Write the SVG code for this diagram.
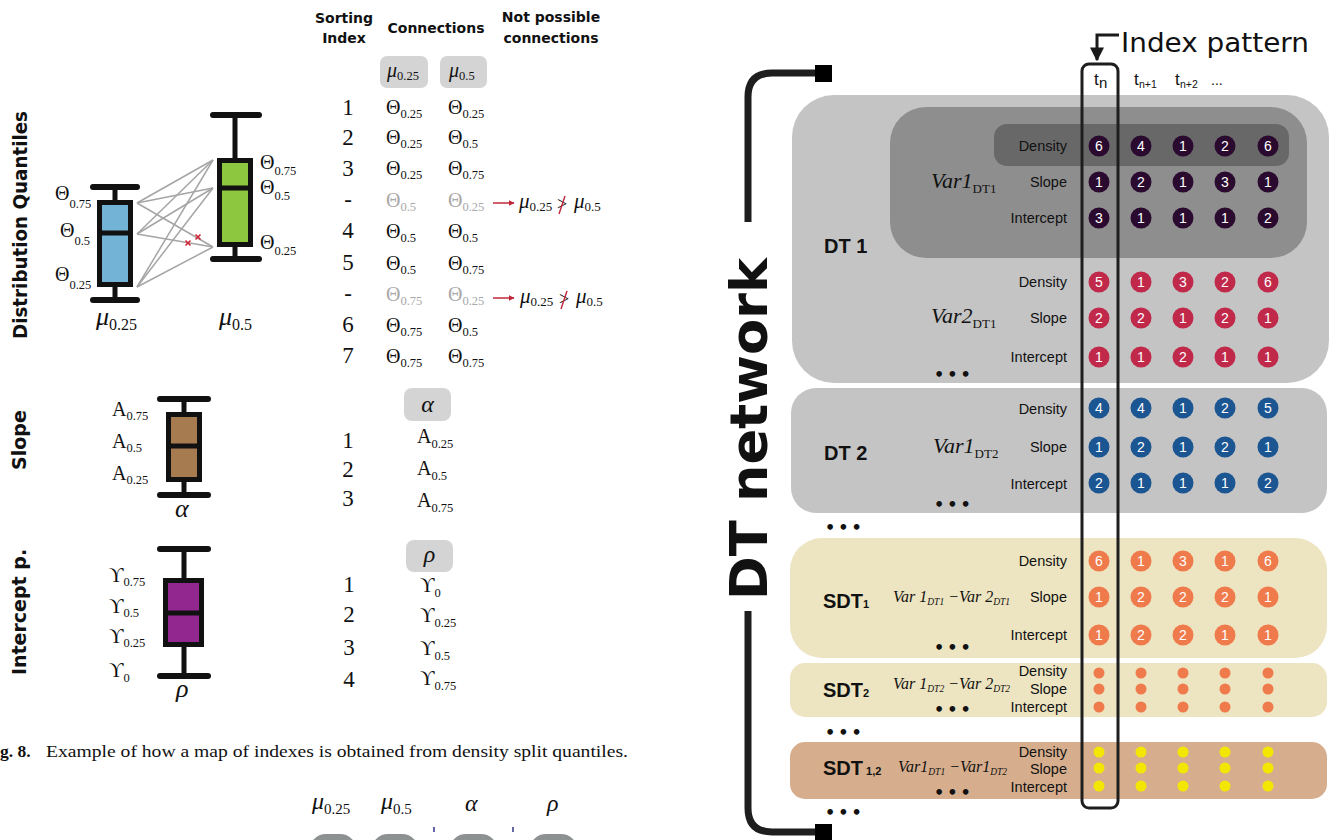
<svg xmlns="http://www.w3.org/2000/svg" width="1332" height="840" viewBox="0 0 1332 840">
<defs>
<marker id="redArrow" viewBox="0 0 10 10" refX="9" refY="5" markerWidth="6" markerHeight="6" markerUnits="userSpaceOnUse" orient="auto"><path d="M0,0 L10,5 L0,10 z" fill="#c0283a"/></marker>
<marker id="blkArrow" viewBox="0 0 10 10" refX="9" refY="5" markerWidth="14" markerHeight="14" markerUnits="userSpaceOnUse" orient="auto"><path d="M0,0 L10,5 L0,10 z" fill="#1a1a1a"/></marker>
</defs>
<style>
.hdr{font-family:"DejaVu Sans",sans-serif;font-weight:bold;font-size:14px;fill:#111;text-anchor:middle}
.rot{font-family:"DejaVu Sans",sans-serif;font-weight:bold;font-size:19px;fill:#111;text-anchor:middle}
.ser{font-family:"Liberation Serif","Times New Roman",serif;fill:#111}
.it{font-style:italic}
.g{font-size:20px}
.sb{font-size:12.5px}
.num{font-family:"Liberation Serif","Times New Roman",serif;font-size:23px;fill:#111;text-anchor:middle}
.lbl{font-family:"Liberation Sans",Arial,sans-serif;font-size:14.5px;fill:#111;text-anchor:end}
.cn{font-family:"Liberation Sans",Arial,sans-serif;font-size:14px;fill:#fff;text-anchor:middle}
.dt{font-family:"Liberation Sans",Arial,sans-serif;font-weight:bold;font-size:20px;fill:#111}
.dots{font-family:"DejaVu Sans",sans-serif;font-weight:bold;font-size:16px;fill:#111;letter-spacing:3px}
.box{stroke:#111;stroke-width:5;stroke-linejoin:miter}
.wh{stroke:#111;stroke-width:5;fill:none}
.cap{stroke:#111;stroke-width:6;stroke-linecap:round}
.conn{stroke:#a5a5a5;stroke-width:1.5;fill:none}
.pu{fill:#2b0a2f}.rd{fill:#c1294b}.bl{fill:#1b5592}.or{fill:#ef7a4b}.ye{fill:#f3e600}
.tag{fill:#d4d4d4}
.gr{fill:#a8a8a8}
</style>

<!-- ================= LEFT: labels ================= -->
<g id="label-distribution-quantiles"><text class="rot" transform="translate(27,225) rotate(-90)" textLength="228" lengthAdjust="spacingAndGlyphs">Distribution Quantiles</text></g>
<g id="label-slope"><text class="rot" transform="translate(26,440) rotate(-90)">Slope</text></g>
<g id="label-intercept"><text class="rot" transform="translate(26,612) rotate(-90)">Intercept p.</text></g>

<!-- connectors between boxplots -->
<g id="connectors">
<line class="conn" x1="137" y1="203" x2="213" y2="160"/>
<line class="conn" x1="137" y1="203" x2="213" y2="188"/>
<line class="conn" x1="137" y1="203" x2="213" y2="247"/>
<line class="conn" x1="137" y1="234" x2="213" y2="160"/>
<line class="conn" x1="137" y1="234" x2="213" y2="188"/>
<line class="conn" x1="137" y1="234" x2="213" y2="247"/>
<line class="conn" x1="137" y1="287" x2="213" y2="160"/>
<line class="conn" x1="137" y1="287" x2="213" y2="188"/>
<line class="conn" x1="137" y1="287" x2="213" y2="247"/>
<g stroke="#d0263a" stroke-width="1.6">
<line x1="185.5" y1="240.5" x2="190.5" y2="245.5"/><line x1="190.5" y1="240.5" x2="185.5" y2="245.5"/>
<line x1="195.5" y1="234.5" x2="200.5" y2="239.5"/><line x1="200.5" y1="234.5" x2="195.5" y2="239.5"/>
</g>
</g>

<g id="boxplot-mu025">
<line class="wh" x1="115" y1="187" x2="115" y2="200"/><line class="wh" x1="115" y1="287" x2="115" y2="300"/>
<line class="cap" x1="93" y1="187" x2="137" y2="187"/><line class="cap" x1="93" y1="300" x2="137" y2="300"/>
<rect class="box" x="99.5" y="202.5" width="31" height="82" fill="#72b3d6"/>
<line class="wh" x1="99.5" y1="233" x2="130.5" y2="233"/>
<text class="ser g" x="55" y="200">Θ<tspan class="sb" dy="8">0.75</tspan></text>
<text class="ser g" x="60" y="237">Θ<tspan class="sb" dy="8">0.5</tspan></text>
<text class="ser g" x="55" y="281">Θ<tspan class="sb" dy="8">0.25</tspan></text>
<text class="ser it" x="96" y="325" font-size="26">μ<tspan font-style="normal" font-size="16" dy="5">0.25</tspan></text>
</g>

<g id="boxplot-mu05">
<line class="wh" x1="235" y1="115" x2="235" y2="158"/><line class="wh" x1="235" y1="247" x2="235" y2="259"/>
<line class="cap" x1="213" y1="115" x2="259" y2="115"/><line class="cap" x1="213" y1="259" x2="259" y2="259"/>
<rect class="box" x="219.5" y="160.5" width="31" height="84" fill="#8dc63f"/>
<line class="wh" x1="219.5" y1="188" x2="250.5" y2="188"/>
<text class="ser g" x="260" y="169">Θ<tspan class="sb" dy="6">0.75</tspan></text>
<text class="ser g" x="260" y="194">Θ<tspan class="sb" dy="6">0.5</tspan></text>
<text class="ser g" x="260" y="249">Θ<tspan class="sb" dy="6">0.25</tspan></text>
<text class="ser it" x="219" y="325" font-size="26">μ<tspan font-style="normal" font-size="16" dy="5">0.5</tspan></text>
</g>

<!-- ================= TABLE ================= -->
<g id="table-headers">
<text class="hdr" x="344" y="23">Sorting</text>
<text class="hdr" x="344" y="43">Index</text>
<text class="hdr" x="436" y="33">Connections</text>
<text class="hdr" x="551" y="22">Not possible</text>
<text class="hdr" x="551" y="43">connections</text>
</g>
<g id="table-tags">
<rect class="tag" x="380" y="56" width="48" height="32" rx="7"/>
<rect class="tag" x="440" y="56" width="47" height="32" rx="7"/>
<text class="ser it" x="387" y="77" font-size="20">μ<tspan font-style="normal" font-size="12.5" dy="3">0.25</tspan></text>
<text class="ser it" x="449" y="77" font-size="20">μ<tspan font-style="normal" font-size="12.5" dy="3">0.5</tspan></text>
</g>
<g id="table-rows">
<text class="num" x="348" y="115">1</text>
<text class="num" x="348" y="145">2</text>
<text class="num" x="348" y="176">3</text>
<text class="num" x="348" y="207">-</text>
<text class="num" x="348" y="238">4</text>
<text class="num" x="348" y="270">5</text>
<text class="num" x="348" y="301">-</text>
<text class="num" x="348" y="332">6</text>
<text class="num" x="348" y="363">7</text>

<text class="ser g" x="386" y="114">Θ<tspan class="sb" dy="4">0.25</tspan></text>
<text class="ser g" x="448" y="114">Θ<tspan class="sb" dy="4">0.25</tspan></text>
<text class="ser g" x="386" y="144">Θ<tspan class="sb" dy="4">0.25</tspan></text>
<text class="ser g" x="448" y="144">Θ<tspan class="sb" dy="4">0.5</tspan></text>
<text class="ser g" x="386" y="175">Θ<tspan class="sb" dy="4">0.25</tspan></text>
<text class="ser g" x="448" y="175">Θ<tspan class="sb" dy="4">0.75</tspan></text>
<text class="ser g" x="386" y="207" fill="#a8a8a8" style="fill:#a8a8a8">Θ<tspan class="sb" dy="4">0.5</tspan></text>
<text class="ser g" x="448" y="207" style="fill:#a8a8a8">Θ<tspan class="sb" dy="4">0.25</tspan></text>
<text class="ser g" x="386" y="238">Θ<tspan class="sb" dy="4">0.5</tspan></text>
<text class="ser g" x="448" y="238">Θ<tspan class="sb" dy="4">0.5</tspan></text>
<text class="ser g" x="386" y="270">Θ<tspan class="sb" dy="4">0.5</tspan></text>
<text class="ser g" x="448" y="270">Θ<tspan class="sb" dy="4">0.75</tspan></text>
<text class="ser g" x="386" y="301" style="fill:#a8a8a8">Θ<tspan class="sb" dy="4">0.75</tspan></text>
<text class="ser g" x="448" y="301" style="fill:#a8a8a8">Θ<tspan class="sb" dy="4">0.25</tspan></text>
<text class="ser g" x="386" y="332">Θ<tspan class="sb" dy="4">0.75</tspan></text>
<text class="ser g" x="448" y="332">Θ<tspan class="sb" dy="4">0.5</tspan></text>
<text class="ser g" x="386" y="363">Θ<tspan class="sb" dy="4">0.75</tspan></text>
<text class="ser g" x="448" y="363">Θ<tspan class="sb" dy="4">0.75</tspan></text>
</g>
<g id="not-possible-1">
<line x1="493" y1="203" x2="514" y2="203" stroke="#c0283a" stroke-width="1.5" marker-end="url(#redArrow)"/>
<text class="ser it" x="519" y="208" font-size="21">μ<tspan font-style="normal" font-size="13" dy="3">0.25</tspan></text>
<text class="ser" x="557" y="210" font-size="18">&gt;</text>
<line x1="565" y1="196" x2="559" y2="214" stroke="#c0283a" stroke-width="1.4"/>
<text class="ser it" x="574" y="208" font-size="21">μ<tspan font-style="normal" font-size="13" dy="3">0.5</tspan></text>
</g>
<g id="not-possible-2">
<line x1="493" y1="298" x2="514" y2="298" stroke="#c0283a" stroke-width="1.5" marker-end="url(#redArrow)"/>
<text class="ser it" x="520" y="303" font-size="21">μ<tspan font-style="normal" font-size="13" dy="3">0.25</tspan></text>
<text class="ser" x="559" y="305" font-size="18">&gt;</text>
<line x1="567" y1="291" x2="561" y2="309" stroke="#c0283a" stroke-width="1.4"/>
<text class="ser it" x="576" y="303" font-size="21">μ<tspan font-style="normal" font-size="13" dy="3">0.5</tspan></text>
</g>

<!-- ================= SLOPE ================= -->
<g id="boxplot-alpha">
<line class="wh" x1="184" y1="399" x2="184" y2="412"/><line class="wh" x1="184" y1="482" x2="184" y2="495"/>
<line class="cap" x1="160" y1="399" x2="208" y2="399"/><line class="cap" x1="160" y1="495" x2="208" y2="495"/>
<rect class="box" x="168.5" y="414.5" width="31" height="65" fill="#a67b50"/>
<line class="wh" x1="168.5" y1="446" x2="199.5" y2="446"/>
<text class="ser" x="112" y="416" font-size="20">A<tspan class="sb" dy="4">0.75</tspan></text>
<text class="ser" x="112" y="448" font-size="20">A<tspan class="sb" dy="4">0.5</tspan></text>
<text class="ser" x="112" y="480" font-size="20">A<tspan class="sb" dy="4">0.25</tspan></text>
<text class="ser it" x="175" y="517" font-size="26">α</text>
</g>
<g id="table-alpha">
<rect class="tag" x="404" y="388" width="47" height="33" rx="8"/>
<text class="ser it" x="427.5" y="412" font-size="24" text-anchor="middle">α</text>
<text class="num" x="348" y="448">1</text>
<text class="num" x="348" y="477">2</text>
<text class="num" x="348" y="506">3</text>
<text class="ser" x="417" y="443" font-size="20">A<tspan class="sb" dy="5">0.25</tspan></text>
<text class="ser" x="417" y="475" font-size="20">A<tspan class="sb" dy="5">0.5</tspan></text>
<text class="ser" x="417" y="507" font-size="20">A<tspan class="sb" dy="5">0.75</tspan></text>
</g>

<!-- ================= INTERCEPT ================= -->
<g id="boxplot-rho">
<line class="wh" x1="184" y1="549" x2="184" y2="578"/><line class="wh" x1="184" y1="647" x2="184" y2="676"/>
<line class="cap" x1="160" y1="549" x2="208" y2="549"/><line class="cap" x1="160" y1="676" x2="208" y2="676"/>
<rect class="box" x="165.5" y="580.5" width="36" height="64" fill="#92278f"/>
<line class="wh" x1="165.5" y1="613" x2="201.5" y2="613"/>
<text class="ser" x="109" y="582" font-size="20">ϒ<tspan class="sb" dy="4">0.75</tspan></text>
<text class="ser" x="109" y="613" font-size="20">ϒ<tspan class="sb" dy="4">0.5</tspan></text>
<text class="ser" x="109" y="643" font-size="20">ϒ<tspan class="sb" dy="4">0.25</tspan></text>
<text class="ser" x="109" y="677" font-size="20">ϒ<tspan class="sb" dy="5">0</tspan></text>
<text class="ser it" x="176" y="697" font-size="26">ρ</text>
</g>
<g id="table-rho">
<rect class="tag" x="406" y="540" width="47" height="32" rx="8"/>
<text class="ser it" x="429.5" y="562" font-size="24" text-anchor="middle">ρ</text>
<text class="num" x="349" y="592">1</text>
<text class="num" x="349" y="622">2</text>
<text class="num" x="349" y="655">3</text>
<text class="num" x="349" y="687">4</text>
<text class="ser" x="420" y="592" font-size="20">ϒ<tspan class="sb" dy="5">0</tspan></text>
<text class="ser" x="420" y="622" font-size="20">ϒ<tspan class="sb" dy="5">0.25</tspan></text>
<text class="ser" x="420" y="655" font-size="20">ϒ<tspan class="sb" dy="5">0.5</tspan></text>
<text class="ser" x="420" y="685" font-size="20">ϒ<tspan class="sb" dy="5">0.75</tspan></text>
</g>

<!-- ================= CAPTION & BOTTOM ================= -->
<g id="caption">
<text class="ser" x="0" y="757" font-size="17.5" font-weight="bold">g. 8.</text>
<text class="ser" x="46" y="757" font-size="17.5" textLength="582" lengthAdjust="spacingAndGlyphs">Example of how a map of indexes is obtained from density split quantiles.</text>
</g>
<g id="bottom-row">
<text class="ser it" x="312" y="809" font-size="24">μ<tspan font-style="normal" font-size="15" dy="5">0.25</tspan></text>
<text class="ser it" x="381" y="809" font-size="24">μ<tspan font-style="normal" font-size="15" dy="5">0.5</tspan></text>
<text class="ser it" x="465" y="811" font-size="24">α</text>
<text class="ser it" x="547" y="811" font-size="24">ρ</text>
<line x1="434" y1="827" x2="434" y2="832" stroke="#34348a" stroke-width="1.5"/>
<line x1="513" y1="827" x2="513" y2="832" stroke="#34348a" stroke-width="1.5"/>
<g fill="#8d9191">
<rect x="310" y="834" width="46" height="30" rx="16"/>
<rect x="372" y="834" width="46" height="30" rx="16"/>
<rect x="450" y="834" width="47" height="30" rx="16"/>
<rect x="530" y="834" width="47" height="30" rx="16"/>
</g>
</g>

<!-- ================= RIGHT: DT network ================= -->
<g id="dt-network-bracket">
<path d="M818,73 H772 Q748,73 748,97 V222" fill="none" stroke="#1e1e1e" stroke-width="7"/>
<path d="M748,611 V808 Q748,832 772,832 H818" fill="none" stroke="#1e1e1e" stroke-width="7"/>
<rect x="815" y="65" width="17" height="17" fill="#000"/>
<rect x="815" y="824" width="17" height="17" fill="#000"/>
<text transform="translate(767,429) rotate(-90)" font-family="DejaVu Sans, sans-serif" font-weight="bold" font-size="52" text-anchor="middle" textLength="342" lengthAdjust="spacingAndGlyphs" fill="#111">DT network</text>
</g>

<g id="dt1">
<rect x="792" y="95" width="537" height="288" rx="42" fill="#c4c4c4"/>
<text class="dt" x="824" y="253">DT 1</text>
</g>
<g id="dt1-var1">
<rect x="890" y="107" width="417" height="151" rx="36" fill="#8e8e8e"/>
<rect x="994" y="124" width="295" height="42" rx="13" fill="#686868"/>
<text class="ser it" x="931" y="188" font-size="22">Var1<tspan font-style="normal" font-size="13" dy="5">DT1</tspan></text>
<text class="lbl" x="1067" y="151">Density</text>
<text class="lbl" x="1067" y="187">Slope</text>
<text class="lbl" x="1067" y="223">Intercept</text>
<g class="pu">
<circle cx="1099" cy="146" r="10.5"/><circle cx="1141" cy="146" r="10.5"/><circle cx="1183" cy="146" r="10.5"/><circle cx="1225" cy="146" r="10.5"/><circle cx="1268" cy="146" r="10.5"/>
<circle cx="1099" cy="182" r="10.5"/><circle cx="1141" cy="182" r="10.5"/><circle cx="1183" cy="182" r="10.5"/><circle cx="1225" cy="182" r="10.5"/><circle cx="1268" cy="182" r="10.5"/>
<circle cx="1099" cy="218" r="10.5"/><circle cx="1141" cy="218" r="10.5"/><circle cx="1183" cy="218" r="10.5"/><circle cx="1225" cy="218" r="10.5"/><circle cx="1268" cy="218" r="10.5"/>
</g>
<text class="cn" x="1099" y="151">6</text><text class="cn" x="1141" y="151">4</text><text class="cn" x="1183" y="151">1</text><text class="cn" x="1225" y="151">2</text><text class="cn" x="1268" y="151">6</text>
<text class="cn" x="1099" y="187">1</text><text class="cn" x="1141" y="187">2</text><text class="cn" x="1183" y="187">1</text><text class="cn" x="1225" y="187">3</text><text class="cn" x="1268" y="187">1</text>
<text class="cn" x="1099" y="223">3</text><text class="cn" x="1141" y="223">1</text><text class="cn" x="1183" y="223">1</text><text class="cn" x="1225" y="223">1</text><text class="cn" x="1268" y="223">2</text>
</g>
<g id="dt1-var2">
<text class="ser it" x="931" y="323" font-size="22">Var2<tspan font-style="normal" font-size="13" dy="5">DT1</tspan></text>
<text class="lbl" x="1067" y="287">Density</text>
<text class="lbl" x="1067" y="323">Slope</text>
<text class="lbl" x="1067" y="362">Intercept</text>
<text class="dots" x="934" y="380">•••</text>
<g class="rd">
<circle cx="1099" cy="282" r="10.5"/><circle cx="1141" cy="282" r="10.5"/><circle cx="1183" cy="282" r="10.5"/><circle cx="1225" cy="282" r="10.5"/><circle cx="1268" cy="282" r="10.5"/>
<circle cx="1099" cy="318" r="10.5"/><circle cx="1141" cy="318" r="10.5"/><circle cx="1183" cy="318" r="10.5"/><circle cx="1225" cy="318" r="10.5"/><circle cx="1268" cy="318" r="10.5"/>
<circle cx="1099" cy="357" r="10.5"/><circle cx="1141" cy="357" r="10.5"/><circle cx="1183" cy="357" r="10.5"/><circle cx="1225" cy="357" r="10.5"/><circle cx="1268" cy="357" r="10.5"/>
</g>
<text class="cn" x="1099" y="287">5</text><text class="cn" x="1141" y="287">1</text><text class="cn" x="1183" y="287">3</text><text class="cn" x="1225" y="287">2</text><text class="cn" x="1268" y="287">6</text>
<text class="cn" x="1099" y="323">2</text><text class="cn" x="1141" y="323">2</text><text class="cn" x="1183" y="323">1</text><text class="cn" x="1225" y="323">2</text><text class="cn" x="1268" y="323">1</text>
<text class="cn" x="1099" y="362">1</text><text class="cn" x="1141" y="362">1</text><text class="cn" x="1183" y="362">2</text><text class="cn" x="1225" y="362">1</text><text class="cn" x="1268" y="362">1</text>
</g>

<g id="dt2">
<rect x="791" y="388" width="536" height="125" rx="25" fill="#c4c4c4"/>
<text class="dt" x="824" y="460">DT 2</text>
<text class="ser it" x="933" y="453" font-size="22">Var1<tspan font-style="normal" font-size="13" dy="5">DT2</tspan></text>
<text class="lbl" x="1067" y="414">Density</text>
<text class="lbl" x="1067" y="452">Slope</text>
<text class="lbl" x="1067" y="489">Intercept</text>
<text class="dots" x="934" y="510">•••</text>
<g class="bl">
<circle cx="1099" cy="408" r="10.5"/><circle cx="1141" cy="408" r="10.5"/><circle cx="1183" cy="408" r="10.5"/><circle cx="1225" cy="408" r="10.5"/><circle cx="1268" cy="408" r="10.5"/>
<circle cx="1099" cy="447" r="10.5"/><circle cx="1141" cy="447" r="10.5"/><circle cx="1183" cy="447" r="10.5"/><circle cx="1225" cy="447" r="10.5"/><circle cx="1268" cy="447" r="10.5"/>
<circle cx="1099" cy="483" r="10.5"/><circle cx="1141" cy="483" r="10.5"/><circle cx="1183" cy="483" r="10.5"/><circle cx="1225" cy="483" r="10.5"/><circle cx="1268" cy="483" r="10.5"/>
</g>
<text class="cn" x="1099" y="413">4</text><text class="cn" x="1141" y="413">4</text><text class="cn" x="1183" y="413">1</text><text class="cn" x="1225" y="413">2</text><text class="cn" x="1268" y="413">5</text>
<text class="cn" x="1099" y="452">1</text><text class="cn" x="1141" y="452">2</text><text class="cn" x="1183" y="452">1</text><text class="cn" x="1225" y="452">2</text><text class="cn" x="1268" y="452">1</text>
<text class="cn" x="1099" y="488">2</text><text class="cn" x="1141" y="488">1</text><text class="cn" x="1183" y="488">1</text><text class="cn" x="1225" y="488">1</text><text class="cn" x="1268" y="488">2</text>
</g>
<g id="ellipsis-1"><text class="dots" x="825" y="533">•••</text></g>

<g id="sdt1">
<rect x="790" y="538" width="537" height="120" rx="32" fill="#ede5c1"/>
<text class="dt" x="823" y="608">SDT<tspan font-size="11">1</tspan></text>
<text class="ser it" x="893" y="602" font-size="16">Var 1<tspan font-size="9.5" dy="3">DT1</tspan><tspan dy="-3"> −Var 2</tspan><tspan font-size="9.5" dy="3">DT1</tspan></text>
<text class="lbl" x="1067" y="566">Density</text>
<text class="lbl" x="1067" y="602">Slope</text>
<text class="lbl" x="1067" y="640">Intercept</text>
<text class="dots" x="934" y="653">•••</text>
<g class="or">
<circle cx="1099" cy="561" r="10.5"/><circle cx="1141" cy="561" r="10.5"/><circle cx="1183" cy="561" r="10.5"/><circle cx="1225" cy="561" r="10.5"/><circle cx="1268" cy="561" r="10.5"/>
<circle cx="1099" cy="597" r="10.5"/><circle cx="1141" cy="597" r="10.5"/><circle cx="1183" cy="597" r="10.5"/><circle cx="1225" cy="597" r="10.5"/><circle cx="1268" cy="597" r="10.5"/>
<circle cx="1099" cy="635" r="10.5"/><circle cx="1141" cy="635" r="10.5"/><circle cx="1183" cy="635" r="10.5"/><circle cx="1225" cy="635" r="10.5"/><circle cx="1268" cy="635" r="10.5"/>
</g>
<text class="cn" x="1099" y="566">6</text><text class="cn" x="1141" y="566">1</text><text class="cn" x="1183" y="566">3</text><text class="cn" x="1225" y="566">1</text><text class="cn" x="1268" y="566">6</text>
<text class="cn" x="1099" y="602">1</text><text class="cn" x="1141" y="602">2</text><text class="cn" x="1183" y="602">2</text><text class="cn" x="1225" y="602">2</text><text class="cn" x="1268" y="602">1</text>
<text class="cn" x="1099" y="640">1</text><text class="cn" x="1141" y="640">2</text><text class="cn" x="1183" y="640">2</text><text class="cn" x="1225" y="640">1</text><text class="cn" x="1268" y="640">1</text>
</g>

<g id="sdt2">
<rect x="790" y="663" width="537" height="54" rx="15" fill="#ede5c1"/>
<text class="dt" x="823" y="697">SDT<tspan font-size="11">2</tspan></text>
<text class="ser it" x="893" y="689" font-size="16">Var 1<tspan font-size="9.5" dy="3">DT2</tspan><tspan dy="-3"> −Var 2</tspan><tspan font-size="9.5" dy="3">DT2</tspan></text>
<text class="lbl" x="1067" y="676">Density</text>
<text class="lbl" x="1067" y="694">Slope</text>
<text class="lbl" x="1067" y="712">Intercept</text>
<text class="dots" x="934" y="715">•••</text>
<g class="or">
<circle cx="1099" cy="673" r="5.5"/><circle cx="1141" cy="673" r="5.5"/><circle cx="1183" cy="673" r="5.5"/><circle cx="1225" cy="673" r="5.5"/><circle cx="1268" cy="673" r="5.5"/>
<circle cx="1099" cy="689" r="5.5"/><circle cx="1141" cy="689" r="5.5"/><circle cx="1183" cy="689" r="5.5"/><circle cx="1225" cy="689" r="5.5"/><circle cx="1268" cy="689" r="5.5"/>
<circle cx="1099" cy="707" r="5.5"/><circle cx="1141" cy="707" r="5.5"/><circle cx="1183" cy="707" r="5.5"/><circle cx="1225" cy="707" r="5.5"/><circle cx="1268" cy="707" r="5.5"/>
</g>
</g>
<g id="ellipsis-2"><text class="dots" x="825" y="738">•••</text></g>

<g id="sdt12">
<rect x="790" y="742" width="537" height="57" rx="15" fill="#d6ae8d"/>
<text class="dt" x="823" y="775">SDT<tspan font-size="11"> 1,2</tspan></text>
<text class="ser it" x="898" y="772" font-size="16">Var1<tspan font-size="9.5" dy="3">DT1</tspan><tspan dy="-3"> −Var1</tspan><tspan font-size="9.5" dy="3">DT2</tspan></text>
<text class="lbl" x="1067" y="757">Density</text>
<text class="lbl" x="1067" y="774">Slope</text>
<text class="lbl" x="1067" y="792">Intercept</text>
<text class="dots" x="934" y="798">•••</text>
<g class="ye">
<circle cx="1099" cy="752" r="5.5"/><circle cx="1141" cy="752" r="5.5"/><circle cx="1183" cy="752" r="5.5"/><circle cx="1225" cy="752" r="5.5"/><circle cx="1268" cy="752" r="5.5"/>
<circle cx="1099" cy="768" r="5.5"/><circle cx="1141" cy="768" r="5.5"/><circle cx="1183" cy="768" r="5.5"/><circle cx="1225" cy="768" r="5.5"/><circle cx="1268" cy="768" r="5.5"/>
<circle cx="1099" cy="786" r="5.5"/><circle cx="1141" cy="786" r="5.5"/><circle cx="1183" cy="786" r="5.5"/><circle cx="1225" cy="786" r="5.5"/><circle cx="1268" cy="786" r="5.5"/>
</g>
</g>
<g id="ellipsis-3"><text class="dots" x="825" y="818">•••</text></g>

<g id="time-headers" font-family="Liberation Sans, Arial, sans-serif" fill="#111">
<text x="1094" y="85" font-size="17">t</text><text x="1099" y="88" font-size="15">n</text>
<text x="1134" y="85" font-size="17">t</text><text x="1139" y="88" font-size="10.5">n+1</text>
<text x="1175" y="85" font-size="17">t</text><text x="1180" y="88" font-size="10.5">n+2</text>
<text x="1211" y="85" font-size="14">...</text>
</g>

<g id="index-pattern">
<rect x="1082" y="64" width="36" height="744" rx="7" fill="none" stroke="#1e1e1e" stroke-width="3"/>
<path d="M1119,35 H1097 V60" fill="none" stroke="#1a1a1a" stroke-width="3" marker-end="url(#blkArrow)"/>
<text x="1121" y="52" font-family="DejaVu Sans, sans-serif" font-size="26" textLength="188" lengthAdjust="spacingAndGlyphs" fill="#111">Index pattern</text>
</g>
</svg>
